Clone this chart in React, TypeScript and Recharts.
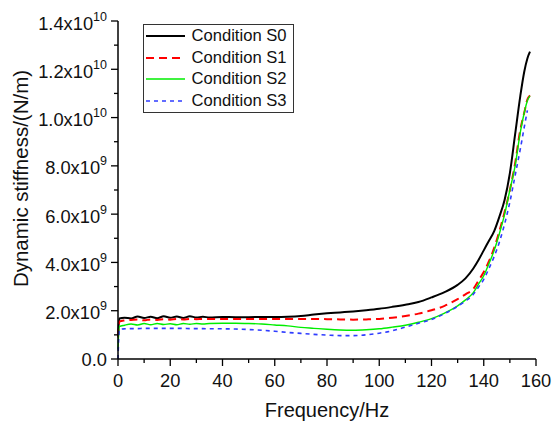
import { Legend, Line, LineChart, XAxis, YAxis } from 'recharts';

// frequency grid, Hz
const freq = [
  0, 0.5, 2.5, 5, 7.5, 10, 12.5, 15, 17.5, 20,
  22.5, 25, 27.5, 30, 32.5, 35, 40, 45, 50, 55,
  60, 65, 70, 75, 80, 85, 90, 95, 100, 105,
  110, 115, 120, 125, 130, 133, 136, 138, 140, 142,
  144, 146, 148, 150, 152, 154, 155.5, 156.7, 157.7,
];

// dynamic stiffness, x10^9 N/m
const s0 = [
  0.9, 1.68, 1.71, 1.68, 1.76, 1.7, 1.75, 1.69, 1.77, 1.71,
  1.76, 1.7, 1.77, 1.72, 1.75, 1.72, 1.74, 1.73, 1.73, 1.74,
  1.74, 1.75, 1.78, 1.84, 1.89, 1.93, 1.97, 2.02, 2.08, 2.16,
  2.25, 2.36, 2.55, 2.77, 3.07, 3.34, 3.75, 4.1, 4.5, 4.9,
  5.3, 5.9, 6.6, 7.7, 9.3, 10.9, 11.9, 12.45, 12.73,
];
const s1 = [
  0.9, 1.55, 1.6, 1.62, 1.64, 1.6, 1.64, 1.62, 1.65, 1.63,
  1.66, 1.64, 1.66, 1.65, 1.66, 1.66, 1.66, 1.66, 1.66, 1.66,
  1.66, 1.66, 1.66, 1.66, 1.65, 1.64, 1.63, 1.64, 1.66, 1.71,
  1.78, 1.88, 2.02, 2.2, 2.48, 2.68, 2.9, 3.25, 3.6, 4.05,
  4.6, 5.3, 6.1, 7.0, 8.1, 9.5, 10.2, 10.75, 10.92,
];
const s2 = [
  0.4, 1.34, 1.4, 1.45, 1.41, 1.47, 1.42, 1.47, 1.43, 1.46,
  1.42, 1.47, 1.44, 1.47, 1.45, 1.47, 1.48, 1.48, 1.47, 1.45,
  1.41, 1.37, 1.31, 1.27, 1.23, 1.2, 1.19, 1.21, 1.25, 1.32,
  1.4, 1.52, 1.67, 1.9, 2.2, 2.45, 2.75, 3.1, 3.45, 3.95,
  4.5, 5.2, 6.0, 7.0, 8.0, 9.4, 10.2, 10.7, 10.9,
];
const s3 = [
  0, 1.22, 1.25, 1.26, 1.26, 1.27, 1.27, 1.27, 1.27, 1.27,
  1.27, 1.27, 1.26, 1.26, 1.26, 1.25, 1.25, 1.24, 1.22, 1.19,
  1.15, 1.1, 1.06, 1.02, 0.99, 0.97, 0.97, 1.0, 1.07, 1.17,
  1.32, 1.48, 1.64, 1.88, 2.18, 2.4, 2.68, 2.98, 3.3, 3.75,
  4.25, 4.85, 5.6, 6.5, 7.6, 8.7, 9.6, 10.3, null,
];

const seriesNames = ['Condition S0', 'Condition S1', 'Condition S2', 'Condition S3'];

const xTicks = [0, 10, 20, 30, 40, 50, 60, 70, 80, 90, 100, 110, 120, 130, 140, 150, 160];
const yTicks = [0, 1, 2, 3, 4, 5, 6, 7, 8, 9, 10, 11, 12, 13, 14];
const yMantissa = ['0.0', '2.0', '4.0', '6.0', '8.0', '1.0', '1.2', '1.4'];
const yExponent = ['', '9', '9', '9', '9', '10', '10', '10'];

const data = freq.map((f, i) => ({ f, S0: s0[i], S1: s1[i], S2: s2[i], S3: s3[i] }));

const FONT = '"Liberation Sans", Arial, Helvetica, sans-serif';

const styles = [
  { key: 'S0', color: '#000000', width: 2, dash: undefined },
  { key: 'S1', color: '#ff0000', width: 2, dash: '8 5' },
  { key: 'S2', color: '#00ee00', width: 1.4, dash: undefined },
  { key: 'S3', color: '#2f3cff', width: 1.6, dash: '4 4' },
];

function XTick(props: any) {
  const { x, y, payload } = props;
  const major = payload.value % 20 === 0;
  return (
    <g>
      <line x1={x} y1={y} x2={x} y2={y + (major ? 7 : 4)} stroke="#000" strokeWidth={1.3} />
      {major && (
        <text x={x} y={y + 27.5} textAnchor="middle" fontSize={18.3} fontFamily={FONT} fill="#111">
          {payload.value}
        </text>
      )}
    </g>
  );
}

function YTick(props: any) {
  const { x, y, payload } = props;
  const major = payload.value % 2 === 0;
  const idx = payload.value / 2;
  const exp = major ? yExponent[idx] : '';
  return (
    <g>
      <line x1={x} y1={y} x2={x - (major ? 7 : 4)} y2={y} stroke="#000" strokeWidth={1.3} />
      {major && (
        <text
          x={x - 11}
          y={y + (exp ? 8.5 : 6.5)}
          textAnchor="end"
          fontSize={18.3}
          fontFamily={FONT}
          fill="#111"
        >
          {exp ? `${yMantissa[idx]}x10` : yMantissa[idx]}
          {exp && (
            <tspan dy={-9} fontSize={12.5}>
              {exp}
            </tspan>
          )}
        </text>
      )}
    </g>
  );
}

function LegendBox() {
  return (
    <div
      style={{
        border: '1px solid #333',
        background: '#fff',
        padding: '0.5px 6px 0.5px 2px',
        fontFamily: FONT,
        fontSize: 16.6,
        color: '#111',
      }}
    >
      {styles.map((s, i) => (
        <div key={s.key} style={{ display: 'flex', alignItems: 'center', height: 21.5, whiteSpace: 'nowrap' }}>
          <svg width={39} height={6} style={{ marginRight: 6.5 }}>
            <line x1={0} y1={3} x2={39} y2={3} stroke={s.color} strokeWidth={s.width} strokeDasharray={s.dash} />
          </svg>
          <span>{seriesNames[i]}</span>
        </div>
      ))}
    </div>
  );
}

export default function App() {
  return (
    <div style={{ position: 'absolute', left: 0, top: 0, width: 552, height: 424, background: '#fff' }}>
      <LineChart width={552} height={424} data={data} margin={{ top: 21, right: 16, bottom: 0, left: 0 }}>
        <XAxis
          dataKey="f"
          type="number"
          domain={[0, 160]}
          ticks={xTicks}
          interval={0}
          tickSize={0}
          tickMargin={0}
          tickLine={false}
          tick={<XTick />}
          height={65}
          axisLine={{ stroke: '#000', strokeWidth: 1.5 }}
          label={{ value: 'Frequency/Hz', position: 'insideBottom', offset: 7, fontSize: 20, fill: '#111', fontFamily: FONT }}
        />
        <YAxis
          type="number"
          domain={[0, 14]}
          ticks={yTicks}
          interval={0}
          tickSize={0}
          tickMargin={0}
          tickLine={false}
          tick={<YTick />}
          width={118}
          axisLine={{ stroke: '#000', strokeWidth: 1.5 }}
        />
        <Legend
          layout="vertical"
          align="center"
          verticalAlign="middle"
          wrapperStyle={{ top: 24, left: 143, width: 'auto' }}
          content={() => <LegendBox />}
        />
        {styles.map((s, i) => (
          <Line
            key={s.key}
            dataKey={s.key}
            name={seriesNames[i]}
            type="monotone"
            stroke={s.color}
            strokeWidth={s.width}
            strokeDasharray={s.dash}
            dot={false}
            activeDot={false}
            isAnimationActive={false}
          />
        ))}
        <text
          x={28}
          y={178.5}
          transform="rotate(-90, 28, 178.5)"
          textAnchor="middle"
          fontSize={20.5}
          fontFamily={FONT}
          fill="#111"
        >
          Dynamic stiffness/(N/m)
        </text>
      </LineChart>
    </div>
  );
}
